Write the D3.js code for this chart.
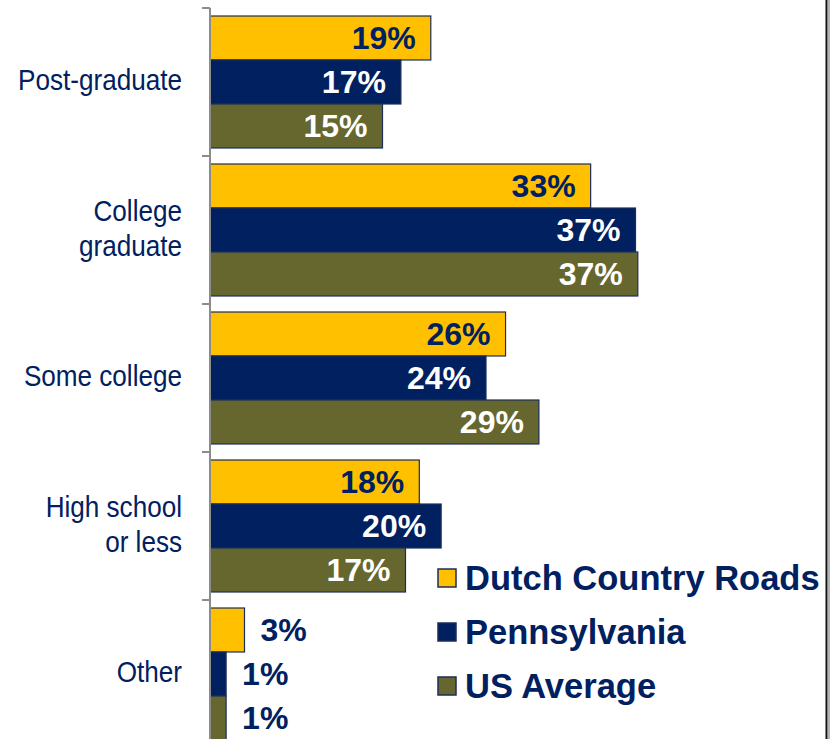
<!DOCTYPE html>
<html>
<head>
<meta charset="utf-8">
<script src="https://cdn.jsdelivr.net/npm/d3@7"></script>
<style>
  html, body { margin: 0; padding: 0; background: #fff; }
  svg { display: block; }
</style>
</head>
<body>
<div id="chart"></div>
<script>
// data
const categories = ["Post-graduate", "College graduate", "Some college", "High school or less", "Other"];
const categoryLines = [["Post-graduate"], ["College", "graduate"], ["Some college"], ["High school", "or less"], ["Other"]];
const series = ["Dutch Country Roads", "Pennsylvania", "US Average"];
// bar lengths (labels are rounded)
const dutchValues = [19.2, 33.1, 25.7, 18.2, 3.0];
const paValues = [16.6, 37.0, 24.0, 20.1, 1.4];
const usValues = [15.0, 37.2, 28.6, 17.0, 1.4];

const colors = ["#FFC000", "#002060", "#66662F"];
const labelColors = ["#002060", "#ffffff", "#ffffff"];
const navy = "#002060";

const width = 835, height = 739;

const svg = d3.select("#chart").append("svg")
    .attr("width", width)
    .attr("height", height);

const x = d3.scaleLinear().domain([0, 54]).range([210, 831]);
const y = d3.scaleBand().domain(categories).range([8, 748]);
const inner = d3.scaleBand().domain(series).range([8, y.bandwidth() - 8]);

const rows = categories.map((c, i) => ({
    cat: c,
    lines: categoryLines[i],
    vals: [dutchValues[i], paValues[i], usValues[i]]
}));

const pct = d3.format(".0f");

// bars
const groups = svg.selectAll("g.group")
    .data(rows)
    .join("g")
    .attr("class", "group")
    .attr("transform", d => `translate(0,${y(d.cat)})`);

groups.selectAll("rect")
    .data(d => d.vals.map((v, j) => ({ v, j })))
    .join("rect")
    .attr("x", x(0))
    .attr("y", d => inner(series[d.j]))
    .attr("width", d => x(d.v) - x(0))
    .attr("height", inner.bandwidth())
    .attr("fill", d => colors[d.j])
    .attr("stroke", "#1c2d5a")
    .attr("stroke-width", 1.2);

// value labels
groups.selectAll("text.val")
    .data(d => d.vals.map((v, j) => ({ v, j })))
    .join("text")
    .attr("class", "val")
    .attr("x", d => d.v < 5 ? x(d.v) + 16 : x(d.v) - 15)
    .attr("y", d => inner(series[d.j]) + inner.bandwidth() / 2 + 11)
    .attr("text-anchor", d => d.v < 5 ? "start" : "end")
    .attr("fill", d => d.v < 5 ? navy : labelColors[d.j])
    .style("font-family", "Liberation Sans, Arial, sans-serif")
    .style("font-weight", "bold")
    .style("font-size", "32px")
    .text(d => pct(d.v) + "%");

// axis line and ticks
svg.append("line")
    .attr("x1", 210).attr("x2", 210)
    .attr("y1", y.range()[0]).attr("y2", height)
    .attr("stroke", "#8c8c8c")
    .attr("stroke-width", 2);

svg.selectAll("line.tick")
    .data(categories)
    .join("line")
    .attr("class", "tick")
    .attr("x1", 202).attr("x2", 210)
    .attr("y1", d => y(d)).attr("y2", d => y(d))
    .attr("stroke", "#8c8c8c")
    .attr("stroke-width", 2);

// category labels
const catText = svg.selectAll("g.cat")
    .data(rows)
    .join("g")
    .attr("class", "cat")
    .attr("transform", d => `translate(182,${y(d.cat) + y.bandwidth() / 2})`);

catText.selectAll("text")
    .data(d => d.lines.map((l, k) => ({ l, k, n: d.lines.length })))
    .join("text")
    .attr("text-anchor", "end")
    .attr("transform", d => `translate(0,${(d.k - (d.n - 1) / 2) * 35 + 8}) scale(0.87,1)`)
    .attr("fill", navy)
    .style("font-family", "Liberation Sans, Arial, sans-serif")
    .style("font-size", "30px")
    .text(d => d.l);

// legend
const legend = svg.append("g").attr("transform", "translate(438,578)");
const items = legend.selectAll("g")
    .data(series)
    .join("g")
    .attr("transform", (d, i) => `translate(0,${i * 54})`);

items.append("rect")
    .attr("x", 0).attr("y", -9)
    .attr("width", 18).attr("height", 18)
    .attr("fill", (d, i) => colors[i])
    .attr("stroke", "#1c2d5a")
    .attr("stroke-width", 1.5);

items.append("text")
    .attr("x", 27)
    .attr("y", 12)
    .attr("fill", navy)
    .style("font-family", "Liberation Sans, Arial, sans-serif")
    .style("font-weight", "bold")
    .style("font-size", "34.5px")
    .text(d => d);

// right frame edge
svg.append("line")
    .attr("x1", 826.5).attr("x2", 826.5)
    .attr("y1", 0).attr("y2", height)
    .attr("stroke", "#111").attr("stroke-width", 2);
svg.append("line")
    .attr("x1", 829).attr("x2", 829)
    .attr("y1", 0).attr("y2", height)
    .attr("stroke", "#9a9a9a").attr("stroke-width", 1.5);
</script>
</body>
</html>
